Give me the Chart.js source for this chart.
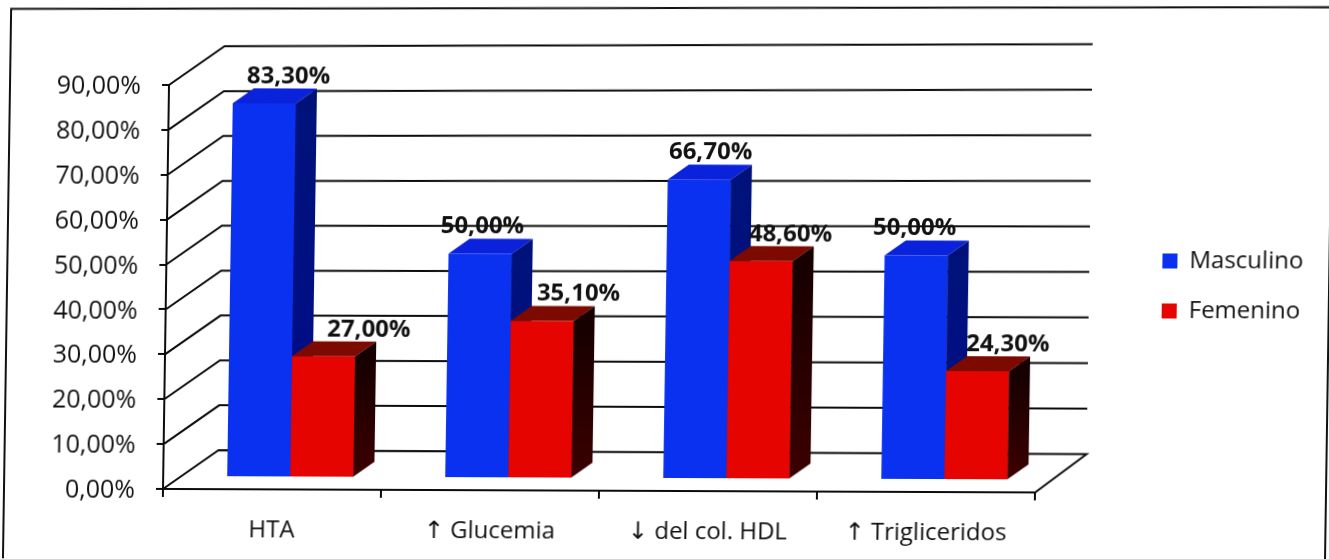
<!DOCTYPE html>
<html>
<head>
<meta charset="utf-8">
<script src="https://cdn.jsdelivr.net/npm/chart.js@4/dist/chart.umd.min.js"></script>
<style>
html, body { margin: 0; padding: 0; background: #fff; overflow: hidden; }
#chart { display: block; transform-origin: 163px 489px; transform: matrix(1, 0.004, -0.0149, 1, 0, 0); }
</style>
</head>
<body>
<canvas id="chart" width="1329" height="559"></canvas>
<script>
var categories = ['HTA', '↑ Glucemia', '↓ del col. HDL', '↑ Trigliceridos'];
var masculino = [83.3, 50, 66.7, 50];
var femenino = [27, 35.1, 48.6, 24.3];

var fontFamily = '"Open Sans","DejaVu Sans",sans-serif';
var barShift = { x: 18, y: -12 };
var barDepth = { x: 21, y: -15 };
var wallShift = { x: 55, y: -39 };
var wallRight = 1086;
// value labels sit to the right of their bars, each by its own amount
var labelNudge = [[24, 2, 11, -2], [45, 36, 29, 30]];
var faces = [
    { top: '#0a22dc', side: ['#00127a', '#000c8c'] },
    { top: '#7c0a00', side: ['#160000', '#3c0000'] }
];

function percent(v) {
    return v.toFixed(2).replace('.', ',') + '%';
}

function polygon(ctx, points, fill) {
    ctx.fillStyle = fill;
    ctx.beginPath();
    points.forEach(function (p, i) {
        if (i === 0) ctx.moveTo(p[0], p[1]); else ctx.lineTo(p[0], p[1]);
    });
    ctx.closePath();
    ctx.fill();
}

var box3d = {
    id: 'box3d',
    afterLayout: function (chart) {
        // legend floats away from the plot, in the right margin
        var legend = chart.legend;
        var w = legend.right - legend.left;
        legend.left = 1133;
        legend.right = 1133 + w;
        legend.top -= 40;
        legend.bottom -= 40;
    },
    beforeDatasetsDraw: function (chart) {
        var ctx = chart.ctx;
        var y = chart.scales.y;
        var area = chart.chartArea;

        // outer frame
        ctx.save();
        ctx.strokeStyle = '#111';
        ctx.lineWidth = 2;
        ctx.beginPath();
        ctx.moveTo(4, 570);
        ctx.lineTo(4, 9.5);
        ctx.lineTo(1326, 2.5);
        ctx.lineTo(1326, 570);
        ctx.stroke();

        // walls and floor
        ctx.strokeStyle = '#0c0c0c';
        y.ticks.forEach(function (t) {
            var py = y.getPixelForValue(t.value);
            var fan = 0.5 - 6 * t.value / 90;
            ctx.beginPath();
            ctx.moveTo(area.left, py);
            ctx.lineTo(area.left + wallShift.x, py + wallShift.y);
            ctx.lineTo(wallRight, py + wallShift.y + fan);
            if (t.value === 0) ctx.lineTo(area.right, py);
            ctx.stroke();
        });

        // top and side faces, the fronts are the bars themselves
        ctx.translate(barShift.x, barShift.y);
        chart.data.datasets.forEach(function (ds, d) {
            chart.getDatasetMeta(d).data.forEach(function (bar) {
                var l = bar.x - bar.width / 2, r = bar.x + bar.width / 2;
                var dx = barDepth.x, dy = barDepth.y;
                polygon(ctx, [[l, bar.y], [l + dx, bar.y + dy], [r + dx, bar.y + dy], [r, bar.y]], faces[d].top);
                var g = ctx.createLinearGradient(0, bar.y, 0, bar.base);
                g.addColorStop(0, faces[d].side[0]);
                g.addColorStop(1, faces[d].side[1]);
                polygon(ctx, [[r, bar.y], [r + dx, bar.y + dy], [r + dx, bar.base + dy], [r, bar.base]], g);
            });
        });
        ctx.restore();

        ctx.save();
        ctx.translate(barShift.x, barShift.y);
    },
    afterDatasetsDraw: function (chart) {
        var ctx = chart.ctx;
        ctx.restore();

        ctx.save();
        ctx.translate(barShift.x, barShift.y);
        ctx.font = 'bold 24px ' + fontFamily;
        ctx.fillStyle = '#111';
        ctx.textAlign = 'center';
        ctx.textBaseline = 'middle';
        chart.data.datasets.forEach(function (ds, d) {
            chart.getDatasetMeta(d).data.forEach(function (bar, i) {
                ctx.fillText(percent(ds.data[i]), bar.x + labelNudge[d][i], bar.y - 27);
            });
        });
        ctx.restore();
    }
};

new Chart(document.getElementById('chart'), {
    type: 'bar',
    data: {
        labels: categories,
        datasets: [
            { label: 'Masculino', data: masculino, backgroundColor: '#0a30f0', clip: false },
            { label: 'Femenino', data: femenino, backgroundColor: '#e60400', clip: false }
        ]
    },
    options: {
        responsive: false,
        animation: false,
        events: [],
        datasets: { bar: { categoryPercentage: 0.578, barPercentage: 1 } },
        layout: { padding: { top: 85, right: 117, bottom: 0, left: 0 } },
        plugins: {
            tooltip: { enabled: false },
            legend: {
                position: 'right',
                labels: {
                    boxWidth: 15,
                    boxHeight: 15,
                    padding: 26,
                    color: '#111',
                    font: { family: fontFamily, size: 24, weight: '500' }
                }
            }
        },
        scales: {
            x: {
                afterFit: function (s) { s.height = 70; },
                border: { display: true, color: '#0c0c0c', width: 2 },
                grid: { drawOnChartArea: false, color: '#0c0c0c', lineWidth: 2, tickLength: 8 },
                ticks: { color: '#111', padding: 19, maxRotation: 0, font: { family: fontFamily, size: 24, weight: '500' } }
            },
            y: {
                min: 0,
                max: 90,
                afterFit: function (s) { s.width = 163; },
                border: { display: true, color: '#0c0c0c', width: 2 },
                grid: { drawOnChartArea: false, color: '#0c0c0c', lineWidth: 2, tickLength: 7 },
                ticks: {
                    stepSize: 10,
                    color: '#111',
                    padding: 21,
                    labelOffset: 2,
                    font: { family: fontFamily, size: 25, weight: '500' },
                    callback: function (v) { return percent(v); }
                }
            }
        }
    },
    plugins: [box3d]
});
</script>
</body>
</html>
